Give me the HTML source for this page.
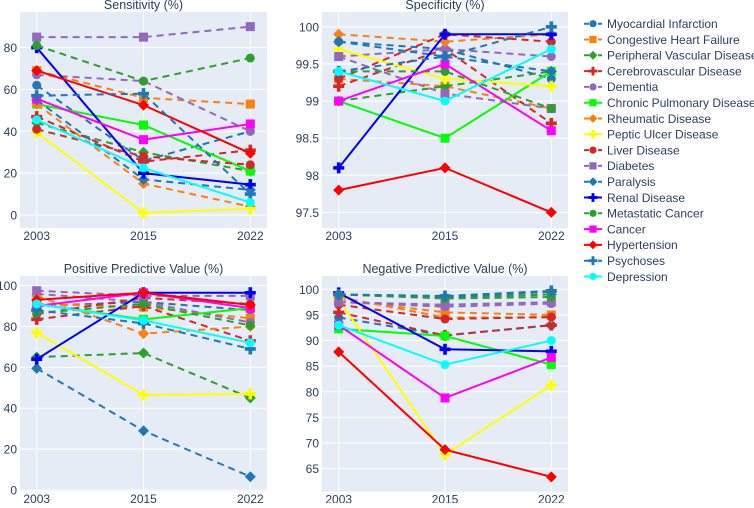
<!DOCTYPE html>
<html><head><meta charset="utf-8">
<style>
body{margin:0;background:#fff;font-family:"Liberation Sans",sans-serif;}
svg text{font-family:"Liberation Sans",sans-serif;fill:#2a3f5f;}
</style></head>
<body>
<svg id="chart" width="754" height="503" xmlns="http://www.w3.org/2000/svg"></svg>
<script>
const categories = ["2003","2015","2022"];
const seriesNames = ["Myocardial Infarction","Congestive Heart Failure","Peripheral Vascular Disease","Cerebrovascular Disease","Dementia","Chronic Pulmonary Disease","Rheumatic Disease","Peptic Ulcer Disease","Liver Disease","Diabetes","Paralysis","Renal Disease","Metastatic Cancer","Cancer","Hypertension","Psychoses","Depression"];
const seriesColors = ["#1f77b4","#ff7f0e","#2ca02c","#d62728","#9467bd","#00ff00","#ff7f0e","#ffff00","#d62728","#9467bd","#1f77b4","#0000ff","#2ca02c","#ff00ff","#ff0000","#1f77b4","#00ffff"];
const seriesDashed = [1,1,1,1,1,0,1,0,1,1,1,0,1,0,0,1,0];
const seriesMarkers = ["circle","square","diamond","cross","circle","square","diamond","cross","circle","square","diamond","cross","circle","square","diamond","cross","circle"];
const sensitivity = [[62,26,40],[69,56,53],[44,30,21],[47,25.5,31],[67,64,40],[53,43,21],[53,15,4],[39.5,1,3],[41,28,24],[85,85,90],[55,17,12],[80,20,14.5],[81,64,75],[55.5,36,43.5],[69,52.5,29.5],[57,58,10],[45.5,22.5,6]];
const specificity = [[99.8,99.7,99.3],[99.3,99.2,98.9],[99.0,99.2,99.4],[99.2,99.7,98.7],[99.6,99.7,99.6],[99.0,98.5,99.4],[99.9,99.8,99.9],[99.7,99.3,99.2],[99.3,99.9,99.8],[99.6,99.1,98.9],[99.8,99.6,99.4],[98.1,99.9,99.9],[99.4,99.4,98.9],[99.0,99.5,98.6],[97.8,98.1,97.5],[99.4,99.6,100],[99.4,99.0,99.7]];
const ppv = [[90,92,88],[91,89.5,84],[65,67,45],[83.5,90,73],[96,92,82],[91,83.5,89],[95,76.5,80],[77,46.5,47],[86,94,91],[97.5,95,95],[59.5,29,6.5],[64,96.5,96.5],[86.5,91,80.5],[90,96.5,89],[93,96.5,90.5],[88,81.5,69],[91,83,72]];
const npv = [[94.5,91,93],[98,95.5,95],[99,98.3,99],[95.5,91,93],[97.5,96.6,97.2],[92.3,90.9,85.3],[98.5,94.5,94.5],[98,67.7,81.3],[97,94.2,94.6],[97.5,97,97.5],[99,98.5,99.5],[99.3,88.3,87.9],[99,98.2,98.5],[93,78.8,86.7],[87.8,68.7,63.4],[99,98.7,99.7],[93,85.3,90]];
const sensTicks = [0,20,40,60,80];
const specTicks = [97.5,98,98.5,99,99.5,100];
const ppvTicks = [0,20,40,60,80,100];
const npvTicks = [65,70,75,80,85,90,95,100];

const NS="http://www.w3.org/2000/svg";
const svg=document.getElementById('chart');
function mk(t,a,p){const e=document.createElementNS(NS,t);for(const k in a)e.setAttribute(k,a[k]);(p||svg).appendChild(e);return e;}

const panels=[
 {name:"sensitivity",title:"Sensitivity (%)",data:sensitivity,ticks:sensTicks,x0:20,x1:267,y0:12,y1:228,min:-6.2,max:97,lbl:i=>String(i)},
 {name:"specificity",title:"Specificity (%)",data:specificity,ticks:specTicks,x0:322,x1:568,y0:12,y1:228,min:97.29,max:100.2,lbl:i=>String(i)},
 {name:"ppv",title:"Positive Predictive Value (%)",data:ppv,ticks:ppvTicks,x0:20,x1:267,y0:276,y1:491,min:-0.5,max:104.7,lbl:i=>String(i)},
 {name:"npv",title:"Negative Predictive Value (%)",data:npv,ticks:npvTicks,x0:322,x1:568,y0:276,y1:491.7,min:60.5,max:102.6,lbl:i=>String(i)}
];

function marker(g,type,x,y,c){
  let m;
  if(type==="circle") m=mk('circle',{cx:x,cy:y,r:4.5,fill:c},g);
  else if(type==="square") m=mk('rect',{x:x-4.5,y:y-4.5,width:9,height:9,fill:c},g);
  else if(type==="diamond") m=mk('polygon',{points:`${x},${y-5.5} ${x+5.5},${y} ${x},${y+5.5} ${x-5.5},${y}`,fill:c},g);
  else m=mk('path',{d:`M${x-1.8},${y-5.5}h3.6v3.7h3.7v3.6h-3.7v3.7h-3.6v-3.7h-3.7v-3.6h3.7z`,fill:c},g);
  return m;
}

panels.forEach(p=>{
  const g=mk('g',{});
  
  
  const bg=mk('rect',{x:p.x0,y:p.y0,width:p.x1-p.x0,height:p.y1-p.y0,fill:'#e5ecf6'},g);
  
  
  const pad=16.7;
  const xs=i=>p.x0+pad+i*((p.x1-p.x0-2*pad)/(categories.length-1));
  const ys=v=>p.y1-(v-p.min)/(p.max-p.min)*(p.y1-p.y0);
  p.ticks.forEach(t=>{
    const ln=mk('line',{x1:p.x0,x2:p.x1,y1:ys(t),y2:ys(t),stroke:'#fff','stroke-width':1},g);
    
    
    const tx=mk('text',{x:p.x0-3,y:ys(t)+4.5,'text-anchor':'end','font-size':12},g);
    tx.textContent=p.lbl(t);
    
    
  });
  categories.forEach((c,i)=>{
    const ln=mk('line',{x1:xs(i),x2:xs(i),y1:p.y0,y2:p.y1,stroke:'#fff','stroke-width':1},g);
    
    
    const tx=mk('text',{x:xs(i),y:p.y1+12,'text-anchor':'middle','font-size':12},g);
    tx.textContent=c;
    
    
  });
  const tt=mk('text',{x:(p.x0+p.x1)/2,y:p.y0-3,'text-anchor':'middle','font-size':12.5},g);
  tt.textContent=p.title;
  
  
  p.data.forEach((vals,s)=>{
    const sg=mk('g',{},g);
    
    
    const pts=vals.map((v,i)=>xs(i)+','+ys(v)).join(' ');
    const a={points:pts,fill:'none',stroke:seriesColors[s],'stroke-width':2};
    if(seriesDashed[s]) a['stroke-dasharray']='7,5';
    const pl=mk('polyline',a,sg);
    
    
    vals.forEach((v,i)=>{
      const m=marker(sg,seriesMarkers[s],xs(i),ys(v),seriesColors[s]);
      
      
    });
  });
});

// legend
const lg=mk('g',{});


seriesNames.forEach((n,s)=>{
  const y=23.7+s*15.8;
  const e=mk('g',{},lg);
  
  
  const a={x1:584,x2:602,y1:y,y2:y,stroke:seriesColors[s],'stroke-width':2};
  if(seriesDashed[s]) a['stroke-dasharray']='5,2';
  mk('line',a,e);
  const m=marker(e,seriesMarkers[s],593,y,seriesColors[s]);
  m.setAttribute('transform',`translate(593 ${y}) scale(0.8) translate(-593 ${-y})`);
  const t=mk('text',{x:607,y:y+4.3,'font-size':12},e);
  t.textContent=n;
});
</script>
</body></html>
